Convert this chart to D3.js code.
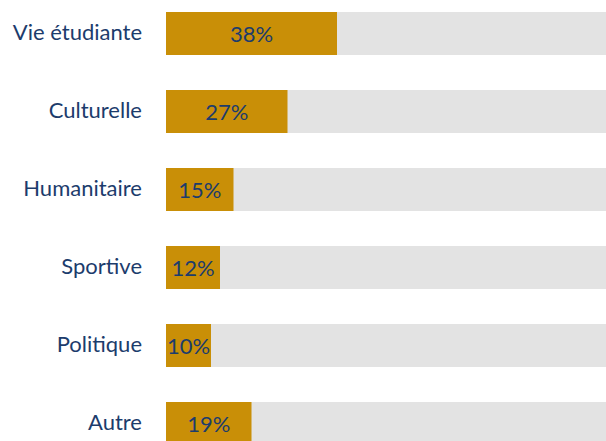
<!DOCTYPE html>
<html>
<head>
<meta charset="utf-8">
<script src="https://cdn.jsdelivr.net/npm/d3@7"></script>
<style>
  html, body { margin: 0; padding: 0; background: #fff; overflow: hidden; }
  svg { display: block; }
</style>
</head>
<body>
<div id="chart"></div>
<script>
// Data
const categories = ["Vie étudiante", "Culturelle", "Humanitaire", "Sportive", "Politique", "Autre"];
const values = [38, 27, 15, 12, 10, 19];

(function () {
  const W = 606, H = 441;
  const labelRight = 142;

  const svg = d3.select("#chart")
    .append("svg")
    .attr("width", W)
    .attr("height", H);

  const x = d3.scaleLinear().domain([0, 100]).range([166, 616]);
  const y = d3.scaleBand()
    .domain(categories)
    .range([12, 445])
    .paddingInner(35 / 78)
    .paddingOuter(0);

  const rows = categories.map((c, i) => ({ cat: c, val: values[i] }));

  // grey track
  svg.append("g").selectAll("rect")
    .data(rows)
    .join("rect")
    .attr("x", x(0))
    .attr("y", d => y(d.cat))
    .attr("width", x(100) - x(0))
    .attr("height", y.bandwidth())
    .attr("fill", "#e3e3e3");

  // value bars
  svg.append("g").selectAll("rect")
    .data(rows)
    .join("rect")
    .attr("x", x(0))
    .attr("y", d => y(d.cat))
    .attr("width", d => x(d.val) - x(0))
    .attr("height", y.bandwidth())
    .attr("fill", "#c98f07");

  const font = "Lato, 'Open Sans', sans-serif";

  // value labels, centred in the bar
  svg.append("g").selectAll("text")
    .data(rows)
    .join("text")
    .attr("x", d => (x(0) + x(d.val)) / 2)
    .attr("y", d => y(d.cat) + y.bandwidth() / 2)
    .attr("dy", "0.4em")
    .attr("text-anchor", "middle")
    .attr("font-family", font)
    .attr("font-size", "22px")
    .attr("fill", "#1c3c6c")
    .text(d => d.val + "%");

  // category labels
  svg.append("g").selectAll("text")
    .data(rows)
    .join("text")
    .attr("x", labelRight)
    .attr("y", d => y(d.cat) + y.bandwidth() / 2)
    .attr("dy", "0.3em")
    .attr("text-anchor", "end")
    .attr("font-family", font)
    .attr("font-size", "22px")
    .attr("fill", "#1c3c6c")
    .text(d => d.cat);
})();
</script>
</body>
</html>
